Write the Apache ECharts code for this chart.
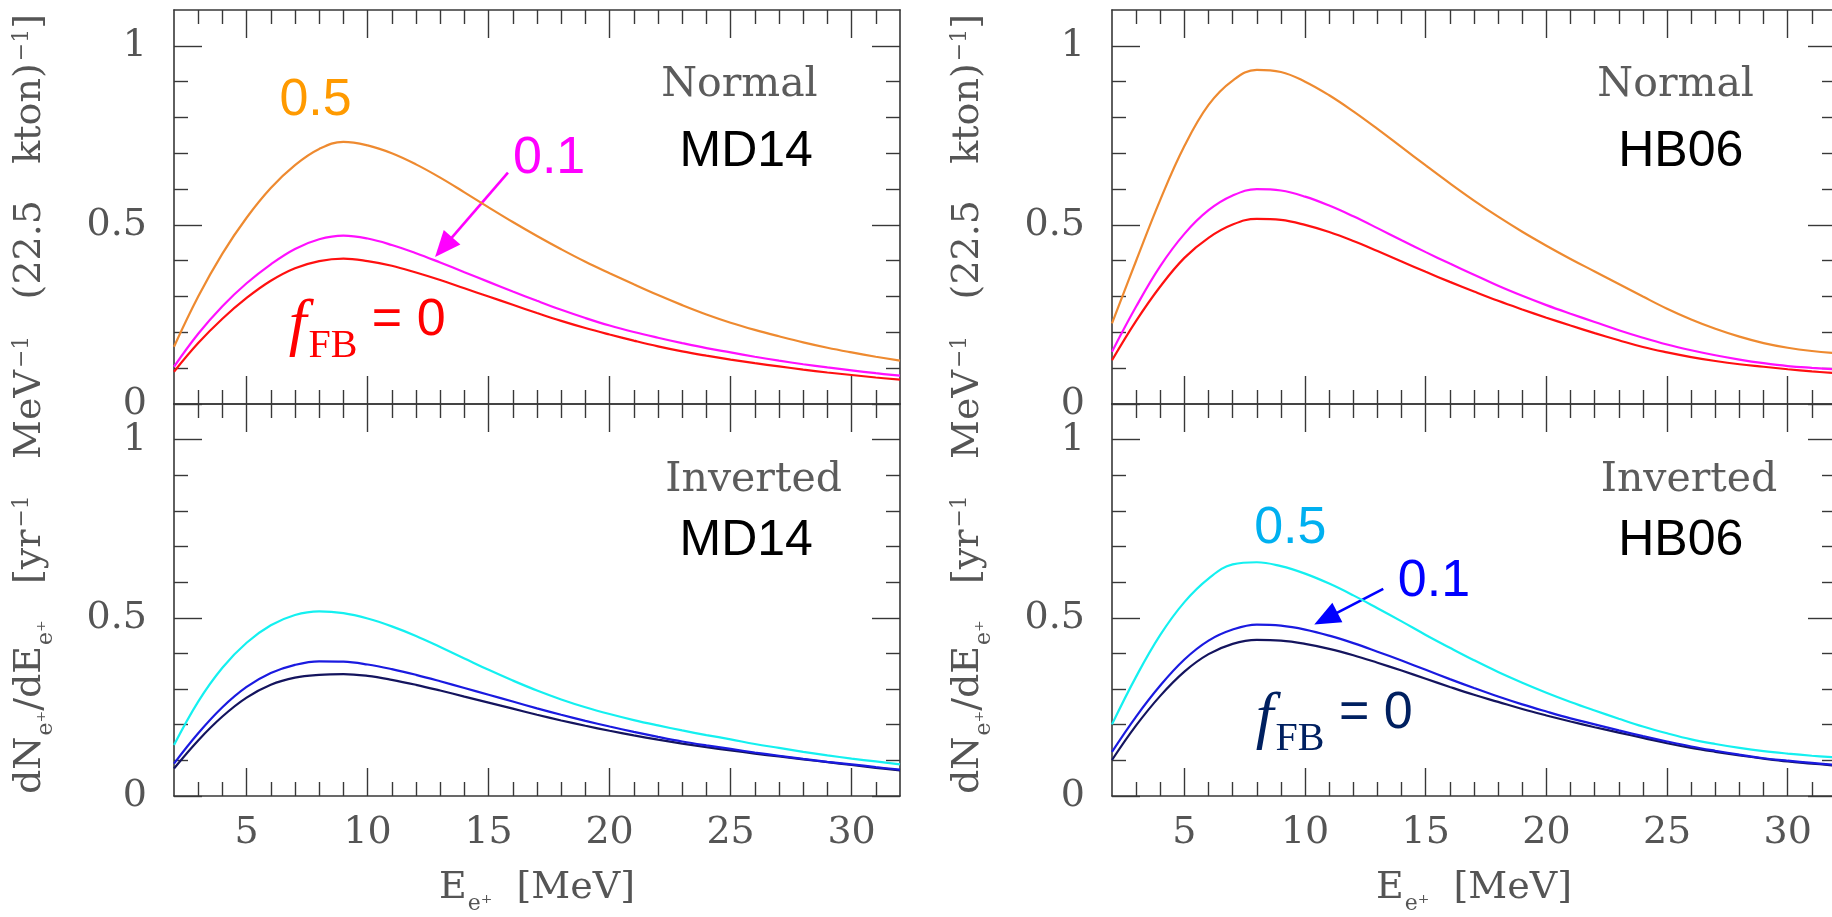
<!DOCTYPE html>
<html>
<head>
<meta charset="utf-8">
<script src="https://cdn.jsdelivr.net/npm/echarts@6/dist/echarts.min.js"></script>
<style>
  html, body { margin: 0; padding: 0; background: #ffffff; }
  #chart { width: 1832px; height: 917px; }
</style>
</head>
<body>
<div id="chart"></div>
<script>
// Positron energy grid [MeV]
const energy = [2, 3, 4, 5, 6, 7, 8, 9, 10, 11, 12, 13, 14, 15, 16, 17, 18, 19, 20, 21, 22, 23, 24, 25, 26, 27, 28, 29, 30, 31, 32];

// Event spectra dN/dE [yr^-1 MeV^-1 (22.5 kton)^-1], normal ordering, MD14
const mdNormalF0  = [0.090, 0.170, 0.238, 0.296, 0.344, 0.379, 0.399, 0.406, 0.399, 0.386, 0.367, 0.346, 0.323, 0.300, 0.277, 0.254, 0.232, 0.212, 0.194, 0.177, 0.161, 0.147, 0.135, 0.124, 0.114, 0.105, 0.096, 0.088, 0.081, 0.074, 0.068];
const mdNormalF01 = [0.104, 0.196, 0.273, 0.337, 0.390, 0.433, 0.460, 0.470, 0.462, 0.444, 0.421, 0.395, 0.368, 0.341, 0.314, 0.288, 0.263, 0.240, 0.219, 0.201, 0.185, 0.170, 0.156, 0.144, 0.132, 0.121, 0.111, 0.102, 0.094, 0.086, 0.079];
const mdNormalF05 = [0.160, 0.300, 0.420, 0.520, 0.603, 0.667, 0.712, 0.732, 0.722, 0.700, 0.669, 0.632, 0.591, 0.549, 0.508, 0.469, 0.432, 0.397, 0.365, 0.334, 0.304, 0.276, 0.250, 0.227, 0.207, 0.189, 0.172, 0.157, 0.144, 0.132, 0.121];

// Inverted ordering, MD14
const mdInvF0  = [0.077, 0.156, 0.223, 0.276, 0.312, 0.332, 0.340, 0.342, 0.337, 0.326, 0.312, 0.296, 0.279, 0.262, 0.245, 0.228, 0.212, 0.197, 0.183, 0.170, 0.158, 0.147, 0.137, 0.128, 0.119, 0.111, 0.103, 0.095, 0.087, 0.079, 0.072];
const mdInvF01 = [0.091, 0.176, 0.249, 0.306, 0.345, 0.368, 0.378, 0.377, 0.369, 0.356, 0.340, 0.322, 0.303, 0.284, 0.265, 0.246, 0.228, 0.211, 0.195, 0.180, 0.166, 0.153, 0.142, 0.132, 0.122, 0.113, 0.104, 0.096, 0.089, 0.081, 0.074];
const mdInvF05 = [0.143, 0.265, 0.360, 0.430, 0.479, 0.508, 0.518, 0.513, 0.498, 0.476, 0.449, 0.418, 0.386, 0.354, 0.324, 0.296, 0.271, 0.249, 0.230, 0.213, 0.198, 0.184, 0.171, 0.159, 0.146, 0.135, 0.124, 0.114, 0.105, 0.097, 0.089];

// Normal ordering, HB06
const hbNormalF0  = [0.122, 0.232, 0.328, 0.408, 0.464, 0.501, 0.517, 0.514, 0.500, 0.480, 0.455, 0.427, 0.398, 0.369, 0.341, 0.314, 0.288, 0.264, 0.241, 0.219, 0.198, 0.178, 0.159, 0.144, 0.131, 0.120, 0.111, 0.104, 0.097, 0.091, 0.086];
const hbNormalF01 = [0.146, 0.272, 0.385, 0.475, 0.541, 0.582, 0.600, 0.596, 0.579, 0.554, 0.524, 0.491, 0.457, 0.424, 0.392, 0.361, 0.330, 0.302, 0.276, 0.252, 0.229, 0.206, 0.185, 0.166, 0.150, 0.136, 0.124, 0.114, 0.106, 0.101, 0.097];
const hbNormalF05 = [0.225, 0.400, 0.570, 0.720, 0.835, 0.903, 0.933, 0.927, 0.900, 0.862, 0.817, 0.768, 0.717, 0.666, 0.616, 0.568, 0.523, 0.481, 0.442, 0.405, 0.370, 0.335, 0.300, 0.266, 0.236, 0.210, 0.188, 0.170, 0.157, 0.148, 0.142];

// Inverted ordering, HB06
const hbInvF0  = [0.101, 0.198, 0.281, 0.349, 0.398, 0.427, 0.438, 0.436, 0.427, 0.413, 0.395, 0.374, 0.352, 0.329, 0.306, 0.284, 0.264, 0.244, 0.226, 0.209, 0.193, 0.178, 0.163, 0.148, 0.135, 0.124, 0.114, 0.105, 0.097, 0.091, 0.085];
const hbInvF01 = [0.124, 0.223, 0.310, 0.383, 0.436, 0.467, 0.481, 0.478, 0.467, 0.450, 0.429, 0.405, 0.380, 0.354, 0.328, 0.303, 0.279, 0.257, 0.237, 0.218, 0.201, 0.184, 0.168, 0.153, 0.139, 0.127, 0.116, 0.106, 0.099, 0.093, 0.087];
const hbInvF05 = [0.201, 0.335, 0.452, 0.544, 0.610, 0.650, 0.656, 0.645, 0.624, 0.596, 0.563, 0.527, 0.490, 0.452, 0.416, 0.381, 0.348, 0.318, 0.290, 0.264, 0.240, 0.217, 0.195, 0.176, 0.159, 0.146, 0.135, 0.126, 0.119, 0.113, 0.108];

// Tick positions
const xMajorTicks = [5, 10, 15, 20, 25, 30];
const xMinorTicks = [3, 4, 6, 7, 8, 9, 11, 12, 13, 14, 16, 17, 18, 19, 21, 22, 23, 24, 26, 27, 28, 29, 31];
const yMajorTicks = [0, 0.5, 1];
const yMinorTicks = [0.1, 0.2, 0.3, 0.4, 0.6, 0.7, 0.8, 0.9];

const SERIF = '"DejaVu Serif", "Liberation Serif", serif';
const ITALIC_SERIF = '"Liberation Serif", "DejaVu Serif", serif';
const SANS = '"Liberation Sans", Arial, sans-serif';
const FRAME = '#383838';
const INK = '#555555';

const panels = [
  { box: { left: 174, top: 10, width: 726, height: 394 }, xLabels: false,
    curves: [
      { data: mdNormalF0, color: '#FF1010' },
      { data: mdNormalF01, color: '#FF10FF' },
      { data: mdNormalF05, color: '#EE8A30' }
    ] },
  { box: { left: 174, top: 404, width: 726, height: 392 }, xLabels: true,
    curves: [
      { data: mdInvF0, color: '#14145E' },
      { data: mdInvF01, color: '#1A1AE0' },
      { data: mdInvF05, color: '#14F0F0' }
    ] },
  { box: { left: 1112, top: 10, width: 724, height: 394 }, xLabels: false,
    curves: [
      { data: hbNormalF0, color: '#FF1010' },
      { data: hbNormalF01, color: '#FF10FF' },
      { data: hbNormalF05, color: '#EE8A30' }
    ] },
  { box: { left: 1112, top: 404, width: 724, height: 392 }, xLabels: true,
    curves: [
      { data: hbInvF0, color: '#14145E' },
      { data: hbInvF01, color: '#1A1AE0' },
      { data: hbInvF05, color: '#14F0F0' }
    ] }
];

// Arrows pointing from the "0.1" labels to their curves (panel, from, to in data units)
const arrows = [
  { panel: 0, color: '#FF00FF', from: [15.8, 0.646], to: [13.14, 0.438] },
  { panel: 3, color: '#0000FF', from: [13.24, 0.581], to: [10.86, 0.498] }
];

const lineTick = { color: FRAME, width: 1.4 };
const tickFont = { fontFamily: SERIF, fontSize: 38, color: INK };

function xAxesFor(g, withLabels) {
  const base = {
    gridIndex: g, type: 'value', min: 2, max: 32,
    splitLine: { show: false }, axisLabel: { show: false },
    axisLine: { show: false, onZero: false }
  };
  return [
    Object.assign({}, base, {
      position: 'bottom',
      axisLine: { show: true, onZero: false, lineStyle: { color: FRAME, width: 1.6 } },
      axisTick: { show: true, inside: true, length: 28, customValues: xMajorTicks, lineStyle: lineTick },
      axisLabel: Object.assign({ show: withLabels, customValues: xMajorTicks, margin: 18 }, tickFont)
    }),
    Object.assign({}, base, {
      position: 'bottom',
      axisTick: { show: true, inside: true, length: 14, customValues: xMinorTicks, lineStyle: lineTick }
    }),
    Object.assign({}, base, {
      position: 'top',
      axisLine: { show: true, onZero: false, lineStyle: { color: FRAME, width: 1.6 } },
      axisTick: { show: true, inside: true, length: 28, customValues: xMajorTicks, lineStyle: lineTick }
    }),
    Object.assign({}, base, {
      position: 'top',
      axisTick: { show: true, inside: true, length: 14, customValues: xMinorTicks, lineStyle: lineTick }
    })
  ];
}

function yAxesFor(g) {
  const base = {
    gridIndex: g, type: 'value', min: 0, max: 1.1,
    splitLine: { show: false }, axisLabel: { show: false },
    axisLine: { show: false, onZero: false }
  };
  return [
    Object.assign({}, base, {
      position: 'left',
      axisLine: { show: true, onZero: false, lineStyle: { color: FRAME, width: 1.6 } },
      axisTick: { show: true, inside: true, length: 28, customValues: yMajorTicks, lineStyle: lineTick },
      axisLabel: Object.assign({ show: true, customValues: yMajorTicks, margin: 27 }, tickFont)
    }),
    Object.assign({}, base, {
      position: 'left',
      axisTick: { show: true, inside: true, length: 14, customValues: yMinorTicks, lineStyle: lineTick }
    }),
    Object.assign({}, base, {
      position: 'right',
      axisLine: { show: true, onZero: false, lineStyle: { color: FRAME, width: 1.6 } },
      axisTick: { show: true, inside: true, length: 28, customValues: yMajorTicks, lineStyle: lineTick }
    }),
    Object.assign({}, base, {
      position: 'right',
      axisTick: { show: true, inside: true, length: 14, customValues: yMinorTicks, lineStyle: lineTick }
    })
  ];
}

const grids = [], xAxes = [], yAxes = [], series = [];
panels.forEach((p, g) => {
  grids.push(Object.assign({ containLabel: false, outerBoundsMode: 'none', show: false }, p.box));
  xAxes.push(...xAxesFor(g, p.xLabels));
  yAxes.push(...yAxesFor(g));
  p.curves.forEach((c, k) => {
    const s = {
      type: 'line',
      xAxisIndex: g * 4, yAxisIndex: g * 4,
      data: energy.map((e, i) => [e, c.data[i]]),
      smooth: 0.4, showSymbol: false, symbol: 'none',
      lineStyle: { color: c.color, width: 2.2 },
      itemStyle: { color: c.color },
      silent: true, z: 3 + k
    };
    const arrow = arrows.find(a => a.panel === g);
    if (arrow && k === 1) {
      s.markLine = {
        silent: true, animation: false,
        symbol: ['none', 'triangle'], symbolSize: [22, 26],
        label: { show: false },
        lineStyle: { color: arrow.color, width: 2.6, type: 'solid' },
        data: [[{ coord: arrow.from }, { coord: arrow.to }]]
      };
    }
    series.push(s);
  });
});

const chart = echarts.init(document.getElementById('chart'), null, { renderer: 'canvas' });
chart.setOption({
  animation: false,
  backgroundColor: '#ffffff',
  grid: grids,
  xAxis: xAxes,
  yAxis: yAxes,
  series: series
});

// ---- Text annotations placed in data coordinates of each panel ----
function px(g, E, v) {
  return chart.convertToPixel({ xAxisIndex: g * 4, yAxisIndex: g * 4 }, [E, v]);
}

const hierStyle = { fontFamily: SERIF, fontSize: 41, fill: '#5c5c5c' };
const modelStyle = { fontFamily: SANS, fontSize: 50, fill: '#000000' };
const fracStyle = { fontFamily: SANS, fontSize: 52 };

function fbRich(color) {
  return {
    f: { fontFamily: ITALIC_SERIF, fontStyle: 'italic', fontSize: 64, fill: color, verticalAlign: 'top', lineHeight: 62 },
    b: { fontFamily: ITALIC_SERIF, fontSize: 40, fill: color, verticalAlign: 'top', lineHeight: 40, padding: [32, 0, 0, 2] },
    q: { fontFamily: SANS, fontSize: 52, fill: color, verticalAlign: 'top', lineHeight: 62 }
  };
}

const notes = [
  { g: 0, E: 28.6, v: 0.89, text: 'Normal', style: hierStyle, align: 'right' },
  { g: 0, E: 28.4, v: 0.702, text: 'MD14', style: modelStyle, align: 'right' },
  { g: 2, E: 28.6, v: 0.89, text: 'Normal', style: hierStyle, align: 'right' },
  { g: 2, E: 28.16, v: 0.702, text: 'HB06', style: modelStyle, align: 'right' },
  { g: 1, E: 29.6, v: 0.886, text: 'Inverted', style: hierStyle, align: 'right' },
  { g: 1, E: 28.4, v: 0.716, text: 'MD14', style: modelStyle, align: 'right' },
  { g: 3, E: 29.57, v: 0.886, text: 'Inverted', style: hierStyle, align: 'right' },
  { g: 3, E: 28.16, v: 0.716, text: 'HB06', style: modelStyle, align: 'right' },
  { g: 0, E: 7.85, v: 0.847, text: '0.5', style: Object.assign({ fill: '#FF9A00' }, fracStyle), align: 'center' },
  { g: 0, E: 17.5, v: 0.685, text: '0.1', style: Object.assign({ fill: '#FF00FF' }, fracStyle), align: 'center' },
  { g: 3, E: 9.39, v: 0.751, text: '0.5', style: Object.assign({ fill: '#00B0F0' }, fracStyle), align: 'center' },
  { g: 3, E: 15.34, v: 0.602, text: '0.1', style: Object.assign({ fill: '#0000FF' }, fracStyle), align: 'center' },
  { g: 0, E: 9.98, v: 0.22, text: '{f|f}{b|FB}{q| = 0}', rich: fbRich('#FF0000'), align: 'center' },
  { g: 3, E: 11.21, v: 0.218, text: '{f|f}{b|FB}{q| = 0}', rich: fbRich('#002060'), align: 'center' }
];

const graphics = notes.map(n => {
  const [x, y] = px(n.g, n.E, n.v);
  const style = Object.assign({ text: n.text, align: n.align, verticalAlign: 'middle' }, n.style || {});
  if (n.rich) style.rich = n.rich;
  return { type: 'text', x: x, y: y, silent: true, z: 20, style: style };
});

// Axis titles
const titleRich = {
  m: { fontFamily: SERIF, fontSize: 38, fill: INK, verticalAlign: 'top', lineHeight: 42 },
  s: { fontFamily: SERIF, fontSize: 22, fill: INK, verticalAlign: 'top', lineHeight: 22, padding: [24, 0, 0, 1] },
  p: { fontFamily: SERIF, fontSize: 22, fill: INK, verticalAlign: 'top', lineHeight: 22, padding: [0, 0, 0, 2] }
};
const yTitle = '{m|dN}{s|e⁺}{m|/dE}{s|e⁺}{m|   [yr}{p|−1}{m|   MeV}{p|−1}{m|   (22.5   kton)}{p|−1}{m|]}';
const xTitle = '{m|E}{s|e⁺}{m|  [MeV]}';

[0, 2].forEach(g => {
  const b = panels[g].box;
  graphics.push({
    type: 'text', x: b.left - 142, y: b.top + b.height, rotation: Math.PI / 2, silent: true,
    style: { text: yTitle, rich: titleRich, align: 'center', verticalAlign: 'middle' }
  });
});
[1, 3].forEach(g => {
  const b = panels[g].box;
  graphics.push({
    type: 'text', x: b.left + b.width / 2, y: b.top + b.height + 94, silent: true,
    style: { text: xTitle, rich: titleRich, align: 'center', verticalAlign: 'middle' }
  });
});

chart.setOption({ graphic: graphics });
</script>
</body>
</html>
